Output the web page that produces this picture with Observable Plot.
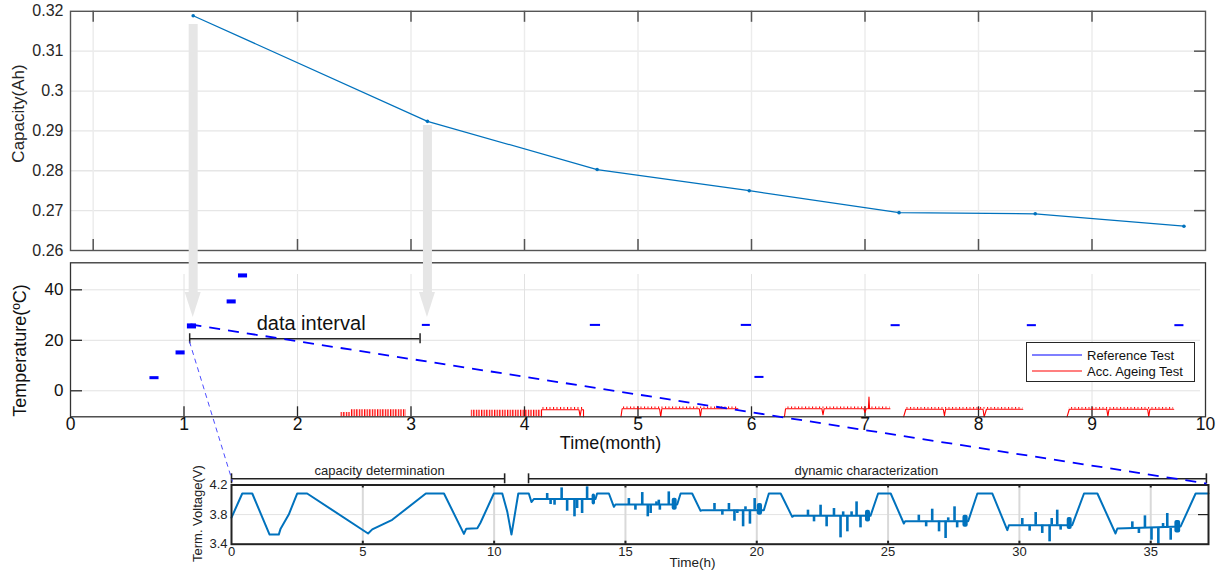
<!DOCTYPE html>
<html>
<head>
<meta charset="utf-8">
<script src="https://cdn.jsdelivr.net/npm/d3@7"></script>
<script src="https://cdn.jsdelivr.net/npm/@observablehq/plot@0.6"></script>
<style>
html, body { margin: 0; padding: 0; background: #fff; }
#fig { position: relative; width: 1223px; height: 576px; overflow: hidden; font-family: "Liberation Sans", Arial, Helvetica, sans-serif; }
#fig svg.layer { position: absolute; left: 0; top: 0; }
</style>
</head>
<body>
<svg width="0" height="0" style="position:absolute">
  <defs>
    <pattern id="accDense" patternUnits="userSpaceOnUse" width="2.6" height="10">
      <rect x="0" y="0" width="1.3" height="10" fill="#ff0000"></rect>
    </pattern>
    <pattern id="accTicks" patternUnits="userSpaceOnUse" width="3.5" height="10">
      <rect x="0" y="0" width="1" height="10" fill="#ff0000"></rect>
    </pattern>
  </defs>
</svg>
<div id="fig"></div>
<script>
// ================= DATA =================
// --- top panel: capacity vs time (month)
const capMonth = [1.081, 3.145, 4.64, 5.98, 7.30, 8.50, 9.81];
const capAh    = [0.3189, 0.2924, 0.2803, 0.2750, 0.2695, 0.2692, 0.2661];
const capTicks = [0.26, 0.27, 0.28, 0.29, 0.30, 0.31, 0.32];
const capTickLabels = ["0.26", "0.27", "0.28", "0.29", "0.3", "0.31", "0.32"];
const topGridMonths = [0.2, 2, 3, 4, 5, 6, 7, 8, 9];
const arrowMonths = [1.081, 3.145];

// --- middle panel: temperature vs time (month)
const monthTicks = [0, 1, 2, 3, 4, 5, 6, 7, 8, 9, 10];
const tempTicks = [0, 20, 40];
// reference tests (blue)
const refStart  = [0.70, 0.93, 1.03, 1.38, 1.48, 3.10, 4.58, 5.91, 6.03, 7.23, 8.43, 9.73];
const refEnd    = [0.78, 1.01, 1.11, 1.46, 1.56, 3.17, 4.67, 6.00, 6.11, 7.31, 8.51, 9.81];
const refTemp   = [5.0, 15.0, 25.5, 35.2, 45.5, 25.9, 25.9, 25.9, 5.3, 25.8, 25.8, 25.8];
const refSpread = [0.6, 0.8, 1.0, 0.8, 0.8, 0.4, 0.4, 0.4, 0.4, 0.4, 0.4, 0.4];
// accelerated ageing test (red): level traces [segment, month, degC]
const accTrace = [
  ["a",4.15,-10.3],["a",4.15,-7.5],["a",4.48,-7.5],["a",4.49,-10.0],["a",4.50,-7.5],["a",4.52,-7.5],["a",4.52,-10.3],
  ["b",4.85,-10.3],["b",4.86,-7.1],["b",5.19,-7.1],["b",5.20,-10.2],["b",5.21,-7.1],["b",5.54,-7.1],["b",5.55,-10.2],["b",5.56,-7.1],["b",5.88,-7.1],
  ["c",6.29,-10.3],["c",6.30,-7.1],["c",6.62,-7.1],["c",6.63,-9.5],["c",6.64,-7.1],["c",6.99,-7.1],["c",7.00,-8.6],["c",7.01,-7.1],["c",7.03,-7.1],["c",7.035,-2.5],["c",7.04,-7.1],["c",7.22,-7.1],
  ["d",7.34,-10.3],["d",7.36,-7.3],["d",7.69,-7.3],["d",7.70,-9.8],["d",7.71,-7.3],["d",8.04,-7.3],["d",8.05,-10.3],["d",8.07,-7.3],["d",8.39,-7.3],
  ["e",8.78,-10.3],["e",8.80,-7.3],["e",9.13,-7.3],["e",9.14,-10.0],["e",9.15,-7.3],["e",9.49,-7.3],["e",9.50,-10.2],["e",9.51,-7.3],["e",9.72,-7.3]
];
// dense cycling bands [from, to, low, high]
const accDenseBands = [[2.38, 2.47, -10.3, -8.6], [2.47, 2.96, -10.3, -7.5], [3.53, 4.15, -10.3, -7.7]];
// small fluctuation bands on top of the levels
const accTickBands = [[4.15, 4.52, -7.5, -6.6], [4.86, 5.88, -7.1, -6.4], [6.30, 7.22, -7.1, -6.4], [7.36, 8.39, -7.3, -6.6], [8.80, 9.72, -7.3, -6.6]];
// annotations
const intervalMonths = [1.05, 3.08];
const intervalTemp = 20.6;
const intervalLabel = "data interval";
const connectorMain = [[1.057, 26.26, 10.009, -36.73]];
const connectorSide = [[1.048, 19.53, 1.427, -35.93]];
const legendNames = ["Reference Test", "Acc. Ageing Test"];
const legendColors = ["#0000ff", "#ff0000"];

// --- inset: terminal voltage vs time (h)
const hourTicks = [0, 5, 10, 15, 20, 25, 30, 35];
const voltTicks = [3.4, 3.8, 4.2];
const voltProfile = [
  [0.00,3.76],[0.41,4.085],[0.79,4.085],[1.45,3.53],[1.80,3.53],[1.87,3.61],[2.18,3.80],[2.50,4.085],[2.88,4.085],
  [5.20,3.545],[5.36,3.60],[6.12,3.73],[7.40,4.085],[8.09,4.085],[8.85,3.54],[8.94,3.61],[9.36,3.615],[9.48,3.69],
  [9.99,4.085],[10.31,4.085],[10.50,3.84],[10.66,3.53],[10.92,4.085],[11.32,4.085],[11.42,3.97],[11.51,4.01],
  [13.86,4.01],[13.92,4.085],[14.37,4.085],[14.56,3.905],[14.62,3.936],
  [16.97,3.936],[17.10,4.085],[17.54,4.085],[17.86,3.851],[17.92,3.86],
  [20.27,3.86],[20.46,4.085],[20.91,4.085],[21.35,3.77],[21.40,3.783],
  [24.33,3.783],[24.62,4.085],[25.10,4.085],[25.60,3.68],[25.65,3.711],
  [28.05,3.711],[28.40,4.085],[28.97,4.085],[29.54,3.59],[29.60,3.657],
  [32.01,3.657],[32.46,4.085],[32.97,4.085],[33.66,3.545],[33.73,3.612],
  [36.14,3.64],[36.71,4.085],[37.20,4.085]
];
// current pulses: [hour, level, peak]
const voltSpikes = [
  [12.02,4.01,4.085],[12.15,4.01,3.936],[12.30,4.01,3.927],[12.57,4.01,4.161],[12.78,4.01,3.846],[13.06,4.01,3.77],[13.16,4.01,3.882],[13.35,4.01,3.815],[13.54,4.01,4.175],
  [15.13,3.936,4.017],[15.38,3.936,3.86],[15.64,3.936,4.098],[15.85,3.936,3.77],[15.96,3.936,3.815],[16.18,3.936,3.972],[16.27,3.936,3.995],[16.31,3.936,3.86],[16.65,3.936,4.107],
  [18.39,3.86,3.95],[18.69,3.86,3.792],[18.94,3.86,3.95],[19.15,3.86,3.711],[19.26,3.86,3.815],[19.48,3.86,3.635],[19.57,3.86,3.905],[19.74,3.86,3.671],[19.92,3.86,4.017],
  [21.95,3.783,3.86],[22.18,3.783,3.702],[22.43,3.783,3.927],[22.66,3.783,3.635],[22.94,3.783,3.882],[23.19,3.783,3.486],[23.29,3.783,3.837],[23.45,3.783,3.567],[23.61,3.783,3.837],[23.80,3.783,3.972],[23.95,3.783,3.621],
  [26.17,3.711,3.792],[26.45,3.711,3.635],[26.68,3.711,3.873],[26.94,3.711,3.567],[27.19,3.711,3.477],[27.29,3.711,3.756],[27.53,3.711,3.905],[27.63,3.711,3.621],
  [30.11,3.657,3.747],[30.39,3.657,3.576],[30.62,3.657,3.828],[30.87,3.657,3.545],[31.15,3.657,3.432],[31.23,3.657,3.747],[31.44,3.657,3.86],[31.57,3.657,3.59],
  [34.30,3.612,3.702],[34.55,3.612,3.545],[34.78,3.612,3.783],[35.03,3.612,3.454],[35.29,3.612,3.40],[35.47,3.612,3.68],[35.63,3.612,3.815],[35.76,3.612,3.454]
];
// dense pulse trains: [from, to, low, high]
const voltClusters = [
  [13.73,13.86,3.93,4.08],[16.78,16.97,3.86,4.02],[20.02,20.22,3.79,3.95],[24.14,24.33,3.70,3.86],
  [27.85,28.05,3.63,3.79],[31.82,32.01,3.60,3.76],[35.92,36.14,3.55,3.72]
];
// test phases: [from, to, label x, label]
const phases = [[0, 10.40, 5.64, "capacity determination"], [11.31, 37.12, 24.17, "dynamic characterization"]];

// ================= LAYOUT =================
const W = 1223, H = 576;
const FONT = '"Liberation Sans", Arial, Helvetica, sans-serif';
const xL = 70, xR = 1205;
const monthPx = 10 / (xR - xL);
const capDomain = [0.26, 0.32];
const topTop = 10.8, topBot = 250;
const capPx = (capDomain[1] - capDomain[0]) / (topBot - topTop);
const tempDomain = [-10.3, 50.7];
const midTop = 262.3, midBot = 416.3;
const tempPx = (tempDomain[1] - tempDomain[0]) / (midBot - midTop);
const inL = 231, inR = 1208, inTop = 484.5, inBot = 543.7;
const hourDomain = [0, 37.2];
const voltDomain = [3.4, 4.2];
const hourPx = (hourDomain[1] - hourDomain[0]) / (inR - inL);
const voltPx = (voltDomain[1] - voltDomain[0]) / (inBot - inTop);

const baseStyle = {background: "transparent", overflow: "visible", fontFamily: FONT};
const figEl = document.getElementById("fig");

// ---------- inset ----------
const insetPlot = Plot.plot({
  width: W, height: H,
  marginLeft: inL, marginRight: W - inR, marginTop: inTop, marginBottom: H - inBot,
  x: {domain: hourDomain, axis: null},
  y: {domain: voltDomain, axis: null},
  style: baseStyle,
  marks: [
    Plot.ruleY([3.8], {stroke: "#e3e3e3", strokeWidth: 1}),
    Plot.ruleX(hourTicks.slice(1), {stroke: "#d9d9d9", strokeWidth: 2}),
    Plot.ruleX(hourTicks.slice(1), {y1: voltDomain[0], y2: voltDomain[0] + 3 * voltPx, stroke: "#222", strokeWidth: 2}),
    Plot.ruleX(hourTicks.slice(1), {y1: voltDomain[1], y2: voltDomain[1] - 3 * voltPx, stroke: "#222", strokeWidth: 2}),
    Plot.ruleY([3.8], {x1: hourDomain[1], x2: hourDomain[1] - 10 * hourPx, stroke: "#222", strokeWidth: 1.2}),
    Plot.line(voltProfile, {x: d => d[0], y: d => d[1], stroke: "#0072BD", strokeWidth: 2}),
    Plot.ruleX(voltSpikes, {x: d => d[0], y1: d => d[1], y2: d => d[2], stroke: "#0072BD", strokeWidth: 2.6}),
    Plot.rect(voltClusters, {x1: d => d[0], x2: d => d[1], y1: d => d[2], y2: d => d[3], fill: "#0072BD", rx: 2}),
    Plot.frame({stroke: "#222", strokeWidth: 2}),
    // phase brackets
    Plot.ruleY(phases, {x1: d => d[0], x2: d => d[1], y: 4.284, stroke: "#222", strokeWidth: 1.6}),
    Plot.ruleX(phases, {x: d => d[0], y1: 4.216, y2: 4.351, stroke: "#222", strokeWidth: 1.6}),
    Plot.ruleX(phases, {x: d => d[1], y1: 4.216, y2: 4.351, stroke: "#222", strokeWidth: 1.6}),
    Plot.text(phases, {x: d => d[2], y: 4.396, text: d => d[3], fontSize: 13, fill: "#222"}),
    // tick labels
    Plot.text(hourTicks, {x: d => d, frameAnchor: "bottom", dy: 11.5, text: d => String(d), fontSize: 13, fill: "#222"}),
    Plot.text(voltTicks, {y: d => d, frameAnchor: "left", dx: -4, textAnchor: "end", text: d => d.toFixed(1), fontSize: 13, fill: "#222"}),
    Plot.text(["Time(h)"], {frameAnchor: "bottom", dx: -27.5, dy: 22.3, text: d => d, fontSize: 13.5, fill: "#222"}),
    Plot.text(["Term. Voltage(V)"], {frameAnchor: "left", dx: -33.5, dy: -1, rotate: -90, textAnchor: "middle", text: d => d, fontSize: 13, fill: "#222"})
  ]
});

// ---------- middle ----------
const refIdx = refStart.map((_, i) => i);
const midPlot = Plot.plot({
  width: W, height: H,
  marginLeft: xL, marginRight: W - xR, marginTop: midTop, marginBottom: H - midBot,
  x: {domain: [0, 10], axis: null},
  y: {domain: tempDomain, axis: null},
  style: baseStyle,
  marks: [
    Plot.ruleY(tempTicks, {x1: 12 * monthPx, x2: 10 - 5 * monthPx, stroke: "#e2e2e2", strokeWidth: 1}),
    Plot.ruleX(monthTicks.slice(1, -1), {y1: tempDomain[0], y2: tempDomain[1] - 11.7 * tempPx, stroke: "#e2e2e2", strokeWidth: 1}),
    Plot.ruleX(monthTicks.slice(1, -1), {y1: tempDomain[0], y2: tempDomain[0] + 10 * tempPx, stroke: "#262626", strokeWidth: 1.3}),
    Plot.ruleY(tempTicks, {x1: 0, x2: 12 * monthPx, stroke: "#262626", strokeWidth: 1.3}),
    // accelerated ageing (red)
    Plot.rect(accDenseBands, {x1: d => d[0], x2: d => d[1], y1: d => d[2], y2: d => d[3], fill: "url(#accDense)"}),
    Plot.rect(accTickBands, {x1: d => d[0], x2: d => d[1], y1: d => d[2], y2: d => d[3], fill: "url(#accTicks)"}),
    Plot.line(accTrace, {x: d => d[1], y: d => d[2], z: d => d[0], stroke: "#ff0000", strokeWidth: 1.1}),
    // reference tests (blue)
    Plot.rect(refIdx, {x1: i => refStart[i], x2: i => refEnd[i], y1: i => refTemp[i] - refSpread[i], y2: i => refTemp[i] + refSpread[i], fill: "#0000ff"}),
    Plot.frame({stroke: "#333", strokeWidth: 1.3}),
    // data interval bracket
    Plot.ruleY([intervalTemp], {x1: intervalMonths[0], x2: intervalMonths[1], stroke: "#262626", strokeWidth: 1.5}),
    Plot.ruleX(intervalMonths, {y1: intervalTemp - 2, y2: intervalTemp + 2, stroke: "#262626", strokeWidth: 1.5}),
    Plot.text([intervalLabel], {x: 2.12, y: 26.66, text: d => d, fontSize: 20, fill: "#111"}),
    // tick labels
    Plot.text(monthTicks, {x: d => d, frameAnchor: "bottom", dy: 13, text: d => String(d), fontSize: 17.5, fill: "#111"}),
    Plot.text(tempTicks, {y: d => d, frameAnchor: "left", dx: -7, textAnchor: "end", text: d => String(d), fontSize: 17, fill: "#111"}),
    Plot.text(["Time(month)"], {frameAnchor: "bottom", dx: -27.5, dy: 32, text: d => d, fontSize: 18, fill: "#111"}),
    Plot.text(["Temperature(ºC)"], {frameAnchor: "left", dx: -50, dy: 10.7, rotate: -90, textAnchor: "middle", text: d => d, fontSize: 18, fill: "#111"}),
    // zoom connectors
    Plot.link(connectorMain, {x1: d => d[0], y1: d => d[1], x2: d => d[2], y2: d => d[3], stroke: "#0000ff", strokeWidth: 1.8, strokeDasharray: "11,8"}),
    Plot.link(connectorSide, {x1: d => d[0], y1: d => d[1], x2: d => d[2], y2: d => d[3], stroke: "#4d4dff", strokeWidth: 1, strokeDasharray: "5,4"})
  ]
});

// ---------- top ----------
const capIdx = capMonth.map((_, i) => i);
const arrowTops = [0.32 - (24 - topTop) * capPx, 0.32 - (125 - topTop) * capPx];
const headBase = 0.32 - (292 - topTop) * capPx;
const headTip = 0.32 - (317 - topTop) * capPx;
const headHalf = 8 * monthPx;
const arrowHeads = arrowMonths.flatMap((m, i) => [
  {x: m - headHalf, y1: headBase, y2: headBase, z: i},
  {x: m, y1: headBase, y2: headTip, z: i},
  {x: m + headHalf, y1: headBase, y2: headBase, z: i}
]);
const topPlot = Plot.plot({
  width: W, height: H,
  marginLeft: xL, marginRight: W - xR, marginTop: topTop, marginBottom: H - topBot,
  x: {domain: [0, 10], axis: null},
  y: {domain: capDomain, axis: null},
  style: baseStyle,
  marks: [
    Plot.ruleY(capTicks.slice(1, -1), {stroke: "#e6e6e6", strokeWidth: 1.3}),
    Plot.ruleX(topGridMonths, {stroke: "#ececec", strokeWidth: 1.5}),
    Plot.ruleX(topGridMonths, {y1: capDomain[0], y2: capDomain[0] + 11 * capPx, stroke: "#555", strokeWidth: 1.5}),
    Plot.ruleX(topGridMonths, {y1: capDomain[1], y2: capDomain[1] - 11 * capPx, stroke: "#555", strokeWidth: 1.5}),
    Plot.ruleY(capTicks.slice(1, -1), {x1: 10, x2: 10 - 11 * monthPx, stroke: "#555", strokeWidth: 1.5}),
    Plot.frame({stroke: "#555", strokeWidth: 1.4}),
    Plot.line(capIdx, {x: i => capMonth[i], y: i => capAh[i], stroke: "#0072BD", strokeWidth: 1.2}),
    Plot.dot(capIdx, {x: i => capMonth[i], y: i => capAh[i], r: 1.8, fill: "#0072BD"}),
    Plot.text(capTicks, {y: d => d, frameAnchor: "left", dx: -7, textAnchor: "end", text: (d, i) => capTickLabels[i], fontSize: 16, fill: "#262626"}),
    Plot.text(["Capacity(Ah)"], {frameAnchor: "left", dx: -51.5, dy: -17.4, rotate: -90, textAnchor: "middle", text: d => d, fontSize: 17, fill: "#262626"}),
    // grey arrows pointing from capacity checkpoints to the reference tests
    Plot.ruleX(arrowMonths, {y1: (d, i) => arrowTops[i], y2: headBase, stroke: "#e6e6e6", strokeWidth: 9}),
    Plot.areaY(arrowHeads, {x: "x", y1: "y1", y2: "y2", z: "z", fill: "#e6e6e6"})
  ]
});

for (const svg of [insetPlot, midPlot, topPlot]) {
  svg.classList.add("layer");
  svg.style.position = "absolute";
  svg.style.left = "0px";
  svg.style.top = "0px";
  svg.style.maxWidth = "none";
  figEl.appendChild(svg);
}

// ---------- legend ----------
const leg = document.createElement("div");
leg.style.cssText = "position:absolute;left:1026px;top:342px;width:167px;height:38px;border:1px solid #262626;background:#fff;";
const ns = "http://www.w3.org/2000/svg";
const ls = document.createElementNS(ns, "svg");
ls.setAttribute("width", 167); ls.setAttribute("height", 38);
legendNames.forEach((name, i) => {
  const y = 12 + i * 16;
  const ln = document.createElementNS(ns, "line");
  ln.setAttribute("x1", 5); ln.setAttribute("x2", 55); ln.setAttribute("y1", y); ln.setAttribute("y2", y);
  ln.setAttribute("stroke", legendColors[i]); ln.setAttribute("stroke-width", 1.2);
  ls.appendChild(ln);
  const tx = document.createElementNS(ns, "text");
  tx.setAttribute("x", 60); tx.setAttribute("y", y + 4.5);
  tx.setAttribute("font-size", 13); tx.setAttribute("font-family", FONT); tx.setAttribute("fill", "#111");
  tx.textContent = name;
  ls.appendChild(tx);
});
leg.appendChild(ls);
figEl.appendChild(leg);
</script>
</body>
</html>
